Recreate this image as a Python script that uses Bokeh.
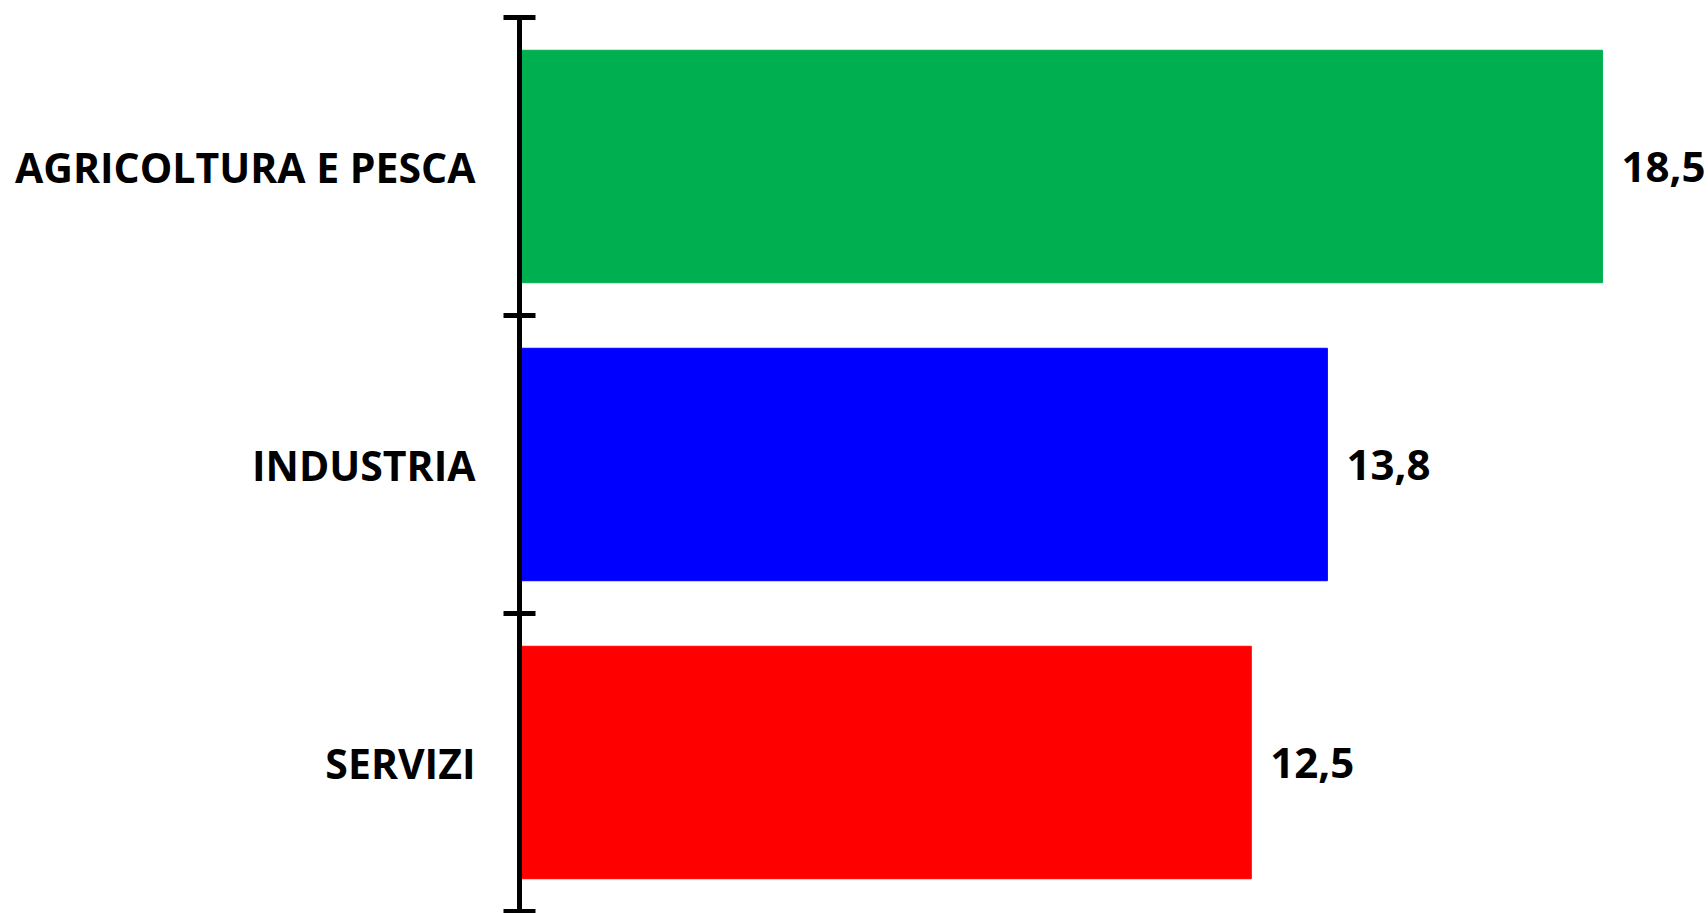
from bokeh.plotting import figure
from bokeh.models import Range1d, FixedTicker, ColumnDataSource
from bokeh.core.properties import value
from bokeh.embed import file_html
from bokeh.resources import INLINE

categories = ["AGRICOLTURA E PESCA", "INDUSTRIA", "SERVIZI"]
values = [18.5, 13.8, 12.5]
colors = ["#00B050", "#0000FF", "#FF0000"]

n = len(categories)
ypos = [n - i - 0.5 for i in range(n)]
labels = [f"{v:.1f}".replace(".", ",") for v in values]

src = ColumnDataSource(dict(y=ypos, v=values, c=colors, lab=labels))

p = figure(width=1708, height=913, output_backend="svg", toolbar_location=None,
           x_range=Range1d(0, 20.31), y_range=Range1d(0, n),
           x_axis_location=None, min_border_left=519, min_border_right=0,
           min_border_top=17, min_border_bottom=2)
p.outline_line_color = None
p.xgrid.visible = False
p.ygrid.visible = False

p.hbar(y="y", right="v", left=0, height=0.78, color="c", source=src)
p.text(x="v", y="y", text="lab", source=src, x_offset=19,
       text_baseline="middle", text_align="left",
       text_font=value("Open Sans"), text_font_style="bold", text_font_size="42px",
       text_color="black")

ax = p.yaxis[0]
ax.ticker = FixedTicker(ticks=ypos, minor_ticks=[float(k) for k in range(n + 1)])
ax.major_label_overrides = {y: c for y, c in zip(ypos, categories)}
ax.major_tick_line_color = None
ax.major_tick_out = 0
ax.major_tick_in = 0
ax.major_label_standoff = 28
ax.major_label_text_font = "Open Sans"
ax.major_label_text_font_style = "bold"
ax.major_label_text_font_size = "41px"
ax.major_label_text_color = "black"
ax.axis_line_width = 5
ax.axis_line_color = "black"
ax.minor_tick_line_width = 5
ax.minor_tick_line_color = "black"
ax.minor_tick_in = 16
ax.minor_tick_out = 16

open("out.html", "w").write(file_html(p, INLINE))
